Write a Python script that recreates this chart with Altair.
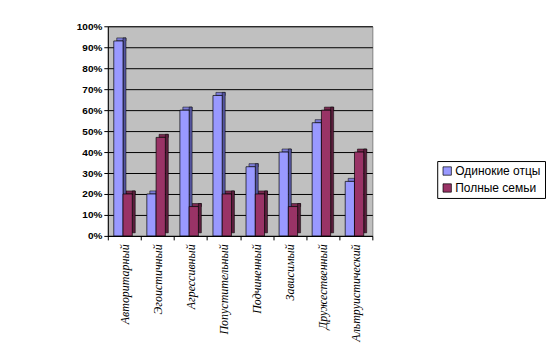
import json
import altair as alt
import pandas as pd

categories = ["Авторитарный", "Эгоистичный", "Агрессивный", "Попустительный",
              "Подчиненный", "Зависимый", "Дружественный", "Альтруистический"]
series = ["Одинокие отцы", "Полные семьи"]
fathers = [93, 20, 60, 67, 33, 40, 54, 26]
families = [20, 47, 14, 20, 20, 14, 60, 40]
front_colors = ["#9999FF", "#993366"]
top_colors = ["#7C7CD8", "#7A2950"]
side_colors = ["#55559E", "#5A1E3C"]
y_ticks = list(range(0, 101, 10))

rows = []
for i, c in enumerate(categories):
    for s, vals in enumerate([fathers, families]):
        rows.append({"idx": i, "s": s, "series": series[s], "value": vals[i],
                     "top": top_colors[s], "side": side_colors[s]})
df = pd.DataFrame(rows)

BW = 0.28   # bar width in category units
DX = 0.09   # depth offset x
DY = 1.45   # depth offset y (value units)

xs = alt.Scale(domain=[0, len(categories)], nice=False, zero=False)
ys = alt.Scale(domain=[0, 100], nice=False)

cat_js = json.dumps(categories, ensure_ascii=False)

x_axis = alt.Axis(
    values=[k * 0.5 for k in range(2 * len(categories) + 1)],
    labelExpr=f"datum.value % 1 === 0 ? '' : {cat_js}[floor(datum.value)]",
    labelAngle=-90, labelFont="Liberation Serif", labelFontStyle="italic",
    labelFontSize=12, labelColor="black", labelPadding=4, labelOverlap=False,
    labelBound=False, labelFlush=False, labelLimit=200,
    tickColor="black", tickSize=4,
    tickOpacity={"condition": {"test": "datum.value % 1 === 0", "value": 1}, "value": 0},
    domainColor="black", grid=False, title=None)

y_axis = alt.Axis(
    values=y_ticks, labelExpr="datum.value + '%'",
    labelFont="Liberation Sans", labelFontWeight="bold", labelFontSize=10,
    labelColor="black", labelPadding=2, tickColor="black", tickSize=4,
    domainColor="black", grid=True, gridColor="black", gridOpacity=1,
    title=None)

base = alt.Chart(df).transform_calculate(
    x0=f"datum.idx + 0.18 + datum.s*{BW}"
).transform_calculate(
    x1=f"datum.x0 + {BW}",
    x0d=f"datum.x0 + {DX}",
    x1d=f"datum.x0 + {BW} + {DX}",
    vtop=f"datum.value + {DY}",
    dy0=f"{DY}",
)

top = base.mark_rect(stroke="black", strokeWidth=0.5).encode(
    x=alt.X("x0d:Q", scale=xs, axis=x_axis),
    x2="x1d:Q",
    y=alt.Y("value:Q", scale=ys, axis=y_axis),
    y2="vtop:Q",
    color=alt.Color("top:N", scale=None),
)

side = base.mark_rect(stroke="black", strokeWidth=0.5).encode(
    x=alt.X("x1:Q", scale=xs, axis=x_axis),
    x2="x1d:Q",
    y=alt.Y("dy0:Q", scale=ys, axis=y_axis),
    y2="vtop:Q",
    color=alt.Color("side:N", scale=None),
)

front = base.mark_rect(stroke="black", strokeWidth=0.7).encode(
    x=alt.X("x0:Q", scale=xs, axis=x_axis),
    x2="x1:Q",
    y=alt.Y("value:Q", scale=ys, axis=y_axis),
    y2=alt.datum(0),
    color=alt.Color("series:N", scale=alt.Scale(domain=series, range=front_colors),
                    legend=alt.Legend(
                        title=None, orient="none", legendX=330, legendY=135,
                        symbolType="square", symbolSize=70, symbolStrokeColor="black",
                        symbolStrokeWidth=0.7, labelFont="Liberation Sans",
                        labelFontSize=12, labelColor="black", labelLimit=300,
                        strokeColor="black", fillColor="white", padding=4,
                        rowPadding=5, symbolOffset=0, labelOffset=2)),
)

chart = alt.layer(top, side, front).properties(
    width=265, height=210,
    autosize=alt.AutoSizeParams(type="none"),
    padding={"left": 100, "top": 18, "right": 180, "bottom": 115},
    background="white",
).configure_view(fill="#C0C0C0", stroke="#808080", strokeWidth=1)

chart.save("out.html", embed_options={"renderer": "svg", "actions": False})
